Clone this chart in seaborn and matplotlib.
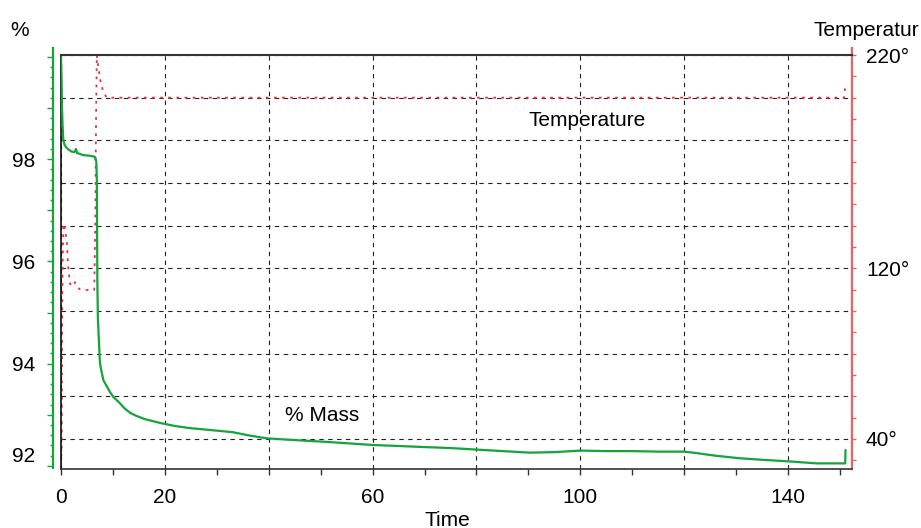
import matplotlib
matplotlib.use('Agg')
import pandas as pd
import matplotlib.pyplot as plt
import seaborn as sns
from matplotlib.ticker import MultipleLocator, FixedLocator, FuncFormatter

# mass curve (% of start) against time
time_mass = [0, 0.1, 0.2, 0.3, 0.45, 0.7, 1.1, 1.6, 2.06, 2.6, 2.9, 3.1, 3.5, 4.3, 5.5, 6.5,
             6.8, 6.9, 6.95, 7.0, 7.1, 7.3, 7.45, 7.6, 8.15, 9.4, 10.1, 11.4, 12.3, 13.3, 14.5,
             16, 19.1, 22, 24.8, 29, 33.1, 36, 39.6, 42.7, 46, 51.2, 55.6, 60, 65, 69.7, 75, 80,
             85, 90.3, 95, 100, 105, 110, 115, 119.8, 121.7, 126, 130.7, 135, 140, 145.5, 151,
             151.05]
mass = [100.0, 99.6, 99.0, 98.67, 98.37, 98.28, 98.22, 98.18, 98.15, 98.14, 98.2, 98.12, 98.11,
        98.08, 98.07, 98.05, 97.95, 97.6, 96.5, 95.6, 94.9, 94.45, 94.1, 93.95, 93.68, 93.45,
        93.35, 93.22, 93.12, 93.04, 92.98, 92.92, 92.84, 92.78, 92.74, 92.7, 92.66, 92.6, 92.54,
        92.52, 92.5, 92.47, 92.44, 92.41, 92.39, 92.37, 92.35, 92.32, 92.29, 92.26, 92.27, 92.3,
        92.29, 92.29, 92.28, 92.28, 92.26, 92.2, 92.15, 92.12, 92.09, 92.05, 92.05, 92.31]

# temperature curve against time
time_temp = [0, 0.12, 0.2, 0.3, 0.45, 0.6, 1.1, 1.35, 1.7, 2.1, 2.7, 3.5, 4.3, 5.5, 6.4, 6.6,
             6.75, 6.9, 7.2, 7.6, 8.1, 8.8, 10, 60, 120, 150.8, 151.0]
temp = [28, 35, 80, 120, 140, 141, 133, 122, 113, 111.5, 113.5, 110.3, 109.8, 109.8, 109.8, 140,
        190, 220, 214, 208, 203, 200, 200, 200, 200, 200, 206]

x_labels = [0, 20, 60, 100, 140]
mass_labels = [94, 96, 98]
temp_labels = [40, 120, 220]

green = '#13a43c'
red_line = '#e5323a'
red_axis = '#e36464'

df_mass = pd.DataFrame({'Time': time_mass, 'Mass': mass})
df_temp = pd.DataFrame({'Time': time_temp, 'Temperature': temp})

sns.set_theme(style='white')
plt.rcParams['font.family'] = ['Liberation Sans', 'DejaVu Sans']
plt.rcParams['text.color'] = 'black'
plt.rcParams['xtick.labelcolor'] = 'black'
plt.rcParams['ytick.labelcolor'] = 'black'

fig = plt.figure(figsize=(9.21, 5.28), dpi=100)
ax = fig.add_axes([61/921, 59/528, 791/921, 414/528])
ax_m = ax.twinx()

# temperature on the main axes (right scale)
sns.lineplot(data=df_temp, x='Time', y='Temperature', ax=ax, estimator=None,
             color=red_line, linewidth=1.3, linestyle=(0, (1.5, 3)))
ax.set_xlim(0, 152.3)
ax.set_ylim(25.9, 220)
ax.set_xlabel('')
ax.set_ylabel('')
ax.yaxis.tick_right()

ax.xaxis.set_major_locator(MultipleLocator(20))
ax.xaxis.set_minor_locator(MultipleLocator(10))
ax.xaxis.set_major_formatter(FuncFormatter(lambda v, p: f'{v:.0f}' if round(v) in x_labels else ''))
ax.tick_params(axis='x', which='both', direction='out', length=4, width=1, color='#333',
               pad=10, labelsize=15, bottom=True, labelcolor='black')

ax.yaxis.set_major_locator(FixedLocator(list(range(40, 221, 20))))
ax.yaxis.set_minor_locator(FixedLocator(list(range(30, 220, 20))))
ax.yaxis.set_major_formatter(FuncFormatter(lambda v, p: f'{v:.0f}°' if round(v) in temp_labels else ''))
ax.tick_params(axis='y', which='both', direction='out', length=3, width=1, color=red_axis,
               pad=7, labelsize=15, right=True, left=False, labelright=True, labelleft=False,
               labelcolor='black')

ax.grid(True, which='major', color='#222', linestyle=(0, (4, 4)), linewidth=0.8)

ax.spines['right'].set_color(red_axis)
ax.spines['right'].set_linewidth(1.6)
ax.spines['right'].set_bounds(25.9, 223.3)
ax.spines['top'].set_color('#333')
ax.spines['top'].set_linewidth(1.5)
ax.spines['left'].set_color('#111')
ax.spines['left'].set_linewidth(1.2)
ax.spines['bottom'].set_color('#333')
ax.spines['bottom'].set_linewidth(1.2)

# mass on the twin axes (left green scale)
sns.lineplot(data=df_mass, x='Time', y='Mass', ax=ax_m, estimator=None,
             color=green, linewidth=1.6)
ax_m.set_ylim(91.94, 100.04)
ax_m.set_ylabel('')
ax_m.yaxis.tick_left()
ax_m.yaxis.set_major_locator(MultipleLocator(1))
ax_m.yaxis.set_minor_locator(MultipleLocator(0.2))
ax_m.yaxis.set_major_formatter(FuncFormatter(lambda v, p: f'{v:.0f}' if round(v) in mass_labels else ''))
ax_m.tick_params(axis='y', which='major', direction='out', length=4, width=1, color=green,
                 pad=9, labelsize=15, left=True, right=False, labelleft=True, labelright=False,
                 labelcolor='black')
ax_m.tick_params(axis='y', which='minor', direction='out', length=2, width=1, color=green,
                 left=True, right=False)
for side in ['right', 'top', 'bottom']:
    ax_m.spines[side].set_visible(False)
ax_m.spines['left'].set_color(green)
ax_m.spines['left'].set_linewidth(1.6)
ax_m.spines['left'].set_position(('outward', 5.8))
ax_m.spines['left'].set_bounds(91.96, 100.18)

# lowest mass label sits just above its tick, as in the original
ax_m.text(-0.033, 92, '92', transform=ax_m.get_yaxis_transform(), ha='right', va='bottom',
          fontsize=15, color='black')

ax.text(101.3, 189.5, 'Temperature', ha='center', va='center', fontsize=15)
ax.text(50.3, 50.8, '% Mass', ha='center', va='center', fontsize=15)

fig.text(10/921, 1 - 30/528, '%', ha='left', va='center', fontsize=15)
fig.text(919/921, 1 - 30/528, 'Temperatur', ha='right', va='center', fontsize=15)
fig.text(447/921, 1 - 520/528, 'Time', ha='center', va='center', fontsize=15)

fig.savefig('out.png', dpi=100)
